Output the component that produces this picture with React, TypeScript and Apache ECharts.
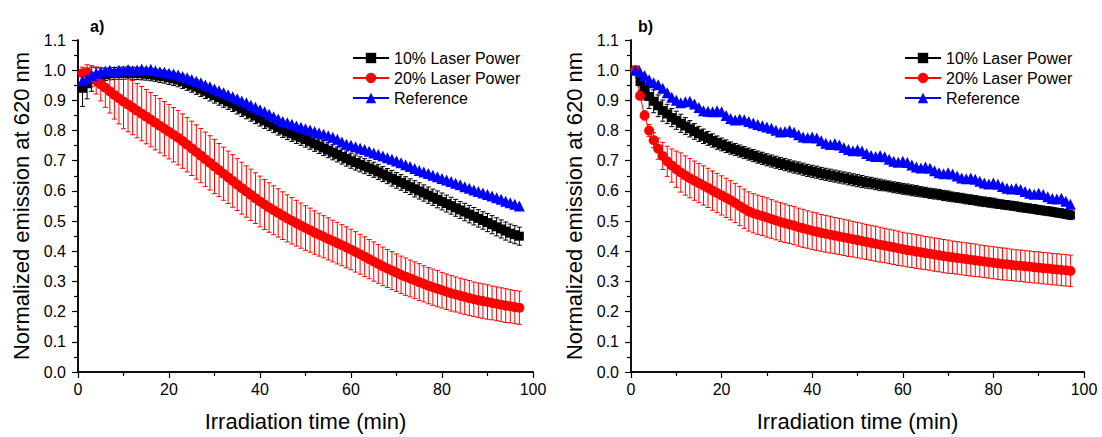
import React, { useEffect, useRef } from "react";
import * as echarts from "echarts";

const TIME = [
  1, 2, 3, 4, 5, 6, 7, 8, 9, 10, 11, 12, 13, 14, 15, 16, 17, 18, 19, 20,
  21, 22, 23, 24, 25, 26, 27, 28, 29, 30, 31, 32, 33, 34, 35, 36, 37, 38, 39, 40,
  41, 42, 43, 44, 45, 46, 47, 48, 49, 50, 51, 52, 53, 54, 55, 56, 57, 58, 59, 60,
  61, 62, 63, 64, 65, 66, 67, 68, 69, 70, 71, 72, 73, 74, 75, 76, 77, 78, 79, 80,
  81, 82, 83, 84, 85, 86, 87, 88, 89, 90, 91, 92, 93, 94, 95, 96, 97,
];

const SERIES_NAMES = ["10% Laser Power", "20% Laser Power", "Reference"];
const X_TICKS = [0, 20, 40, 60, 80, 100];
const Y_TICKS = [0.0, 0.1, 0.2, 0.3, 0.4, 0.5, 0.6, 0.7, 0.8, 0.9, 1.0, 1.1];

// ---------- Panel a ----------
const A_P10 = [
  0.94, 0.955, 0.97, 0.978, 0.983, 0.986, 0.988, 0.989, 0.99, 0.99,
  0.991, 0.99, 0.989, 0.988, 0.987, 0.985, 0.983, 0.98, 0.978, 0.975,
  0.971, 0.967, 0.962, 0.956, 0.95, 0.944, 0.937, 0.93, 0.923, 0.916,
  0.909, 0.902, 0.895, 0.888, 0.88, 0.872, 0.864, 0.856, 0.848, 0.84,
  0.832, 0.825, 0.818, 0.81, 0.802, 0.795, 0.789, 0.782, 0.776, 0.77,
  0.763, 0.756, 0.749, 0.742, 0.735, 0.728, 0.721, 0.714, 0.707, 0.7,
  0.694, 0.688, 0.682, 0.676, 0.67, 0.663, 0.656, 0.649, 0.642, 0.635,
  0.628, 0.621, 0.614, 0.607, 0.6, 0.593, 0.586, 0.579, 0.572, 0.565,
  0.558, 0.551, 0.544, 0.537, 0.53, 0.523, 0.516, 0.509, 0.502, 0.495,
  0.488, 0.481, 0.474, 0.467, 0.46, 0.455, 0.45,
];
const A_P10_ERR = [
  0.06, 0.05, 0.04, 0.03, 0.025, 0.02, 0.02, 0.02, 0.02, 0.02,
  0.02, 0.02, 0.02, 0.02, 0.02, 0.02, 0.02, 0.021, 0.021, 0.022,
  0.022, 0.022, 0.023, 0.023, 0.023, 0.024, 0.024, 0.024, 0.025, 0.025,
  0.025, 0.025, 0.025, 0.025, 0.025, 0.025, 0.025, 0.025, 0.025, 0.025,
  0.025, 0.025, 0.025, 0.025, 0.025, 0.025, 0.025, 0.025, 0.025, 0.025,
  0.025, 0.025, 0.025, 0.025, 0.025, 0.025, 0.025, 0.025, 0.025, 0.025,
  0.025, 0.025, 0.025, 0.025, 0.025, 0.025, 0.025, 0.025, 0.026, 0.026,
  0.026, 0.026, 0.026, 0.027, 0.027, 0.027, 0.027, 0.027, 0.028, 0.028,
  0.028, 0.028, 0.028, 0.028, 0.029, 0.029, 0.029, 0.029, 0.029, 0.03,
  0.03, 0.03, 0.03, 0.03, 0.03, 0.03, 0.03,
];
const A_P20 = [
  0.99, 0.993, 0.98, 0.966, 0.953, 0.942, 0.93, 0.918, 0.907, 0.896,
  0.886, 0.876, 0.866, 0.856, 0.846, 0.836, 0.826, 0.816, 0.806, 0.796,
  0.786, 0.776, 0.765, 0.753, 0.741, 0.729, 0.717, 0.705, 0.693, 0.681,
  0.669, 0.657, 0.645, 0.633, 0.621, 0.609, 0.598, 0.587, 0.576, 0.565,
  0.555, 0.545, 0.536, 0.527, 0.518, 0.509, 0.501, 0.493, 0.485, 0.477,
  0.47, 0.462, 0.455, 0.448, 0.441, 0.434, 0.427, 0.42, 0.413, 0.406,
  0.398, 0.39, 0.382, 0.374, 0.366, 0.358, 0.35, 0.343, 0.336, 0.329,
  0.322, 0.316, 0.31, 0.304, 0.298, 0.292, 0.286, 0.281, 0.276, 0.271,
  0.266, 0.261, 0.257, 0.253, 0.249, 0.245, 0.241, 0.238, 0.235, 0.232,
  0.229, 0.226, 0.223, 0.22, 0.218, 0.215, 0.213,
];
const A_P20_ERR = [
  0.02, 0.025, 0.035, 0.045, 0.055, 0.065, 0.072, 0.08, 0.085, 0.09,
  0.09, 0.09, 0.09, 0.09, 0.09, 0.09, 0.09, 0.09, 0.09, 0.09,
  0.09, 0.09, 0.09, 0.09, 0.09, 0.09, 0.09, 0.09, 0.09, 0.09,
  0.088, 0.088, 0.087, 0.087, 0.086, 0.086, 0.085, 0.085, 0.084, 0.084,
  0.083, 0.082, 0.081, 0.08, 0.079, 0.078, 0.077, 0.076, 0.075, 0.074,
  0.073, 0.072, 0.071, 0.07, 0.07, 0.069, 0.069, 0.068, 0.068, 0.067,
  0.067, 0.066, 0.066, 0.065, 0.065, 0.064, 0.064, 0.063, 0.063, 0.062,
  0.062, 0.062, 0.061, 0.061, 0.061, 0.06, 0.06, 0.06, 0.06, 0.059,
  0.059, 0.059, 0.058, 0.058, 0.058, 0.058, 0.057, 0.057, 0.057, 0.057,
  0.056, 0.056, 0.056, 0.056, 0.055, 0.055, 0.055,
];
const A_REF = [
  0.965, 0.972, 0.982, 0.99, 0.995, 0.997, 1.0, 0.996, 1.0, 0.998,
  1.002, 0.998, 1.001, 1.004, 1.0, 1.003, 0.998, 0.995, 0.993, 0.99,
  0.987, 0.984, 0.979, 0.975, 0.969, 0.963, 0.958, 0.951, 0.945, 0.938,
  0.932, 0.925, 0.919, 0.912, 0.905, 0.898, 0.892, 0.884, 0.877, 0.869,
  0.862, 0.854, 0.846, 0.838, 0.83, 0.826, 0.821, 0.815, 0.811, 0.806,
  0.802, 0.797, 0.792, 0.788, 0.783, 0.778, 0.771, 0.762, 0.755, 0.751,
  0.746, 0.741, 0.737, 0.731, 0.726, 0.721, 0.716, 0.71, 0.705, 0.699,
  0.693, 0.687, 0.681, 0.674, 0.668, 0.663, 0.658, 0.652, 0.647, 0.641,
  0.636, 0.631, 0.625, 0.62, 0.614, 0.609, 0.603, 0.598, 0.593, 0.588,
  0.583, 0.577, 0.572, 0.566, 0.561, 0.556, 0.55,
];

// ---------- Panel b ----------
const B_P10 = [
  1.0, 0.962, 0.937, 0.913, 0.897, 0.882, 0.866, 0.855, 0.843, 0.834,
  0.824, 0.815, 0.806, 0.797, 0.789, 0.781, 0.774, 0.767, 0.76, 0.754,
  0.748, 0.742, 0.737, 0.732, 0.727, 0.722, 0.717, 0.712, 0.708, 0.703,
  0.699, 0.695, 0.691, 0.687, 0.683, 0.679, 0.676, 0.672, 0.668, 0.665,
  0.662, 0.658, 0.655, 0.652, 0.649, 0.646, 0.643, 0.64, 0.637, 0.634,
  0.631, 0.628, 0.626, 0.623, 0.62, 0.618, 0.615, 0.612, 0.61, 0.607,
  0.605, 0.602, 0.6, 0.597, 0.595, 0.592, 0.59, 0.588, 0.585, 0.583,
  0.58, 0.578, 0.576, 0.573, 0.571, 0.569, 0.566, 0.564, 0.562, 0.56,
  0.557, 0.555, 0.553, 0.551, 0.549, 0.546, 0.544, 0.542, 0.54, 0.537,
  0.535, 0.533, 0.531, 0.528, 0.526, 0.523, 0.52,
];
const B_P10_ERR = [
  0.005, 0.03, 0.035, 0.04, 0.038, 0.036, 0.035, 0.032, 0.03, 0.03,
  0.03, 0.028, 0.027, 0.026, 0.025, 0.024, 0.023, 0.022, 0.022, 0.021,
  0.021, 0.02, 0.02, 0.02, 0.02, 0.02, 0.02, 0.02, 0.02, 0.02,
  0.02, 0.02, 0.02, 0.02, 0.02, 0.02, 0.02, 0.02, 0.02, 0.02,
  0.02, 0.02, 0.02, 0.02, 0.02, 0.02, 0.02, 0.02, 0.02, 0.02,
  0.02, 0.019, 0.019, 0.019, 0.019, 0.018, 0.018, 0.018, 0.018, 0.018,
  0.018, 0.018, 0.018, 0.017, 0.017, 0.017, 0.017, 0.017, 0.017, 0.017,
  0.016, 0.016, 0.016, 0.016, 0.016, 0.016, 0.016, 0.016, 0.016, 0.016,
  0.015, 0.015, 0.015, 0.015, 0.015, 0.015, 0.015, 0.015, 0.015, 0.015,
  0.015, 0.015, 0.015, 0.015, 0.015, 0.015, 0.015,
];
const B_P20 = [
  1.0, 0.915, 0.85, 0.8, 0.768, 0.74, 0.716, 0.698, 0.684, 0.672,
  0.661, 0.651, 0.642, 0.634, 0.626, 0.618, 0.61, 0.601, 0.593, 0.585,
  0.577, 0.569, 0.56, 0.55, 0.541, 0.532, 0.526, 0.521, 0.517, 0.512,
  0.507, 0.502, 0.497, 0.493, 0.489, 0.485, 0.48, 0.476, 0.472, 0.468,
  0.465, 0.461, 0.458, 0.455, 0.452, 0.449, 0.446, 0.443, 0.44, 0.437,
  0.434, 0.431, 0.428, 0.425, 0.422, 0.419, 0.416, 0.413, 0.41, 0.407,
  0.404, 0.402, 0.399, 0.397, 0.394, 0.392, 0.389, 0.387, 0.384, 0.382,
  0.38, 0.378, 0.376, 0.374, 0.372, 0.37, 0.368, 0.366, 0.364, 0.362,
  0.36, 0.358, 0.357, 0.355, 0.353, 0.352, 0.35, 0.349, 0.347, 0.346,
  0.344, 0.343, 0.341, 0.34, 0.338, 0.337, 0.335,
];
const B_P20_ERR = [
  0.01, 0.01, 0.015, 0.02, 0.025, 0.035, 0.045, 0.05, 0.055, 0.06,
  0.065, 0.065, 0.065, 0.065, 0.065, 0.065, 0.065, 0.065, 0.065, 0.065,
  0.065, 0.065, 0.065, 0.065, 0.065, 0.065, 0.065, 0.065, 0.065, 0.065,
  0.064, 0.064, 0.064, 0.064, 0.063, 0.063, 0.063, 0.063, 0.062, 0.062,
  0.062, 0.061, 0.061, 0.061, 0.06, 0.06, 0.06, 0.06, 0.059, 0.059,
  0.059, 0.058, 0.058, 0.058, 0.058, 0.057, 0.057, 0.057, 0.057, 0.056,
  0.056, 0.056, 0.056, 0.056, 0.055, 0.055, 0.055, 0.055, 0.055, 0.055,
  0.054, 0.054, 0.054, 0.054, 0.054, 0.054, 0.053, 0.053, 0.053, 0.053,
  0.053, 0.053, 0.053, 0.052, 0.052, 0.052, 0.052, 0.052, 0.052, 0.052,
  0.052, 0.052, 0.052, 0.052, 0.052, 0.052, 0.052,
];
const B_REF = [
  1.0, 0.993, 0.982, 0.968, 0.958, 0.952, 0.94, 0.925, 0.91, 0.9,
  0.892, 0.895, 0.897, 0.888, 0.876, 0.866, 0.864, 0.862, 0.866, 0.862,
  0.85, 0.84, 0.835, 0.838, 0.836, 0.83, 0.825, 0.82, 0.816, 0.812,
  0.808, 0.801, 0.795, 0.797, 0.8, 0.794, 0.786, 0.779, 0.776, 0.779,
  0.775, 0.766, 0.758, 0.754, 0.757, 0.752, 0.744, 0.737, 0.733, 0.736,
  0.732, 0.724, 0.717, 0.714, 0.717, 0.713, 0.705, 0.698, 0.695, 0.698,
  0.694, 0.686, 0.679, 0.676, 0.679, 0.675, 0.667, 0.66, 0.657, 0.66,
  0.656, 0.649, 0.643, 0.64, 0.643, 0.639, 0.632, 0.626, 0.623, 0.626,
  0.622, 0.615, 0.609, 0.606, 0.609, 0.605, 0.598, 0.592, 0.589, 0.592,
  0.588, 0.581, 0.575, 0.573, 0.576, 0.566, 0.556,
];

const FONT = "'Liberation Sans', Arial, sans-serif";

function pairs(ts: number[], vs: number[]) {
  return ts.map((t, i) => [t, vs[i]]);
}
function errData(ts: number[], vs: number[], es: number[]) {
  return ts.map((t, i) => [t, vs[i] - es[i], vs[i] + es[i]]);
}

function errSeries(name: string, idx: number, data: number[][], color: string) {
  return {
    type: "custom",
    name,
    xAxisIndex: idx * 2,
    yAxisIndex: idx * 2,
    z: 2,
    silent: true,
    data,
    renderItem: (_params: any, api: any) => {
      const x = api.value(0);
      const lo = api.value(1);
      const hi = api.value(2);
      const p1 = api.coord([x, hi]);
      const p2 = api.coord([x, lo]);
      const w = 2.5;
      const st = { stroke: color, lineWidth: 1 };
      return {
        type: "group",
        children: [
          { type: "line", shape: { x1: p1[0], y1: p1[1], x2: p2[0], y2: p2[1] }, style: st },
          { type: "line", shape: { x1: p1[0] - w, y1: p1[1], x2: p1[0] + w, y2: p1[1] }, style: st },
          { type: "line", shape: { x1: p2[0] - w, y1: p2[1], x2: p2[0] + w, y2: p2[1] }, style: st },
        ],
      };
    },
  };
}

function lineSeries(name: string, idx: number, data: number[][], color: string, symbol: string, size: number) {
  return {
    type: "line",
    name,
    xAxisIndex: idx * 2,
    yAxisIndex: idx * 2,
    z: 3,
    data,
    symbol,
    symbolSize: size,
    showSymbol: true,
    lineStyle: { color, width: 1 },
    itemStyle: { color },
  };
}

function xAxes(gridIndex: number) {
  const common = {
    type: "value",
    gridIndex,
    min: X_TICKS[0],
    max: X_TICKS[X_TICKS.length - 1],
    interval: X_TICKS[1] - X_TICKS[0],
    splitLine: { show: false },
    axisLine: { show: true, lineStyle: { color: "#000", width: 1.5 } },
  };
  return [
    {
      ...common,
      position: "bottom",
      name: "Irradiation time (min)",
      nameLocation: "middle",
      nameGap: 38,
      nameTextStyle: { fontSize: 22, color: "#000", fontFamily: FONT },
      axisTick: { show: true, inside: false, length: 6, lineStyle: { color: "#000", width: 1.2 } },
      minorTick: { show: true, splitNumber: 2, length: 4, lineStyle: { color: "#000", width: 1.2 } },
      axisLabel: { show: true, fontSize: 16, color: "#000", margin: 9, fontFamily: FONT },
    },
    {
      ...common,
      position: "top",
      axisTick: { show: true, inside: true, length: 5, lineStyle: { color: "#000", width: 1 } },
      minorTick: { show: true, splitNumber: 2, length: 3, lineStyle: { color: "#000", width: 1 } },
      axisLabel: { show: false },
    },
  ];
}

function yAxes(gridIndex: number) {
  const common = {
    type: "value",
    gridIndex,
    min: Y_TICKS[0],
    max: Y_TICKS[Y_TICKS.length - 1],
    interval: 0.1,
    splitLine: { show: false },
    axisLine: { show: true, lineStyle: { color: "#000", width: 1.5 } },
  };
  return [
    {
      ...common,
      position: "left",
      name: "Normalized emission at 620 nm",
      nameLocation: "middle",
      nameGap: 46,
      nameTextStyle: { fontSize: 22, color: "#000", fontFamily: FONT },
      axisTick: { show: true, inside: false, length: 6, lineStyle: { color: "#000", width: 1.2 } },
      minorTick: { show: true, splitNumber: 2, length: 4, lineStyle: { color: "#000", width: 1.2 } },
      axisLabel: {
        show: true,
        fontSize: 16,
        color: "#000",
        margin: 12,
        fontFamily: FONT,
        formatter: (v: number) => v.toFixed(1),
      },
    },
    {
      ...common,
      position: "right",
      axisTick: { show: true, inside: true, length: 5, lineStyle: { color: "#000", width: 1 } },
      minorTick: { show: true, splitNumber: 2, length: 3, lineStyle: { color: "#000", width: 1 } },
      axisLabel: { show: false },
    },
  ];
}

function legend(left: number) {
  return {
    data: SERIES_NAMES,
    orient: "vertical",
    left,
    top: 45,
    itemWidth: 36,
    itemHeight: 13,
    itemGap: 4,
    selectedMode: false,
    textStyle: { fontSize: 16, color: "#000", fontFamily: FONT, lineHeight: 16, padding: [0, 0, 0, 0] },
  };
}

export default function App() {
  const ref = useRef<HTMLDivElement>(null);
  useEffect(() => {
    if (!ref.current) return;
    const chart = echarts.init(ref.current, null, { renderer: "svg" });
    const option: any = {
      animation: false,
      backgroundColor: "#fff",
      textStyle: { fontFamily: FONT },
      title: [
        { text: "a)", left: 85, top: 13, textStyle: { fontSize: 16, fontWeight: "bold", color: "#000", fontFamily: FONT } },
        { text: "b)", left: 633, top: 13, textStyle: { fontSize: 16, fontWeight: "bold", color: "#000", fontFamily: FONT } },
      ],
      legend: [legend(347), legend(899)],
      grid: [
        { left: 78, top: 40, width: 455, height: 333 },
        { left: 631, top: 40, width: 453, height: 333 },
      ],
      xAxis: [...xAxes(0), ...xAxes(1)],
      yAxis: [...yAxes(0), ...yAxes(1)],
      series: [
        errSeries("a-err-10", 0, errData(TIME, A_P10, A_P10_ERR), "#000"),
        lineSeries(SERIES_NAMES[0], 0, pairs(TIME, A_P10), "#000000", "rect", 9),
        errSeries("a-err-20", 0, errData(TIME, A_P20, A_P20_ERR), "#ff0000"),
        lineSeries(SERIES_NAMES[1], 0, pairs(TIME, A_P20), "#ff0000", "circle", 10),
        lineSeries(SERIES_NAMES[2], 0, pairs(TIME, A_REF), "#0000ff", "triangle", 11),
        errSeries("b-err-10", 1, errData(TIME, B_P10, B_P10_ERR), "#000"),
        lineSeries(SERIES_NAMES[0], 1, pairs(TIME, B_P10), "#000000", "rect", 9),
        errSeries("b-err-20", 1, errData(TIME, B_P20, B_P20_ERR), "#ff0000"),
        lineSeries(SERIES_NAMES[1], 1, pairs(TIME, B_P20), "#ff0000", "circle", 10),
        lineSeries(SERIES_NAMES[2], 1, pairs(TIME, B_REF), "#0000ff", "triangle", 11),
      ],
    };
    chart.setOption(option);
    return () => chart.dispose();
  }, []);
  return (
    <div
      ref={ref}
      style={{ position: "fixed", left: 0, top: 0, width: 1102, height: 437, background: "#fff" }}
    />
  );
}
